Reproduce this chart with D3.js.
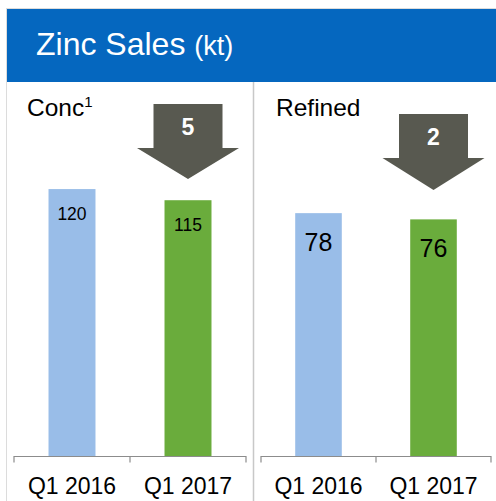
<!DOCTYPE html>
<html>
<head>
<meta charset="utf-8">
<script src="https://cdn.jsdelivr.net/npm/d3@7"></script>
<style>
  body { margin: 0; background: #fff; }
  text { font-family: Arial, "Liberation Sans", sans-serif; }
</style>
</head>
<body>
<script>
var width = 496, height = 501;

// data
var categories = ["Q1 2016", "Q1 2017"];
var concValues = [120, 115];
var refinedValues = [78, 76];
var concChange = 5;
var refinedChange = 2;
var barColors = ["#99bde8", "#6aac3c"];

var svg = d3.select("body").append("svg")
  .attr("width", width).attr("height", height);

// frame + header
svg.append("line").attr("x1", 6.5).attr("x2", 6.5).attr("y1", 8).attr("y2", height)
  .attr("stroke", "#dcdcdc");
svg.append("line").attr("x1", 6).attr("x2", width).attr("y1", 8.5).attr("y2", 8.5)
  .attr("stroke", "#dcdcdc");
svg.append("rect").attr("x", 7).attr("y", 9).attr("width", width - 7).attr("height", 73)
  .attr("fill", "#0567bf");
var title = svg.append("text").attr("x", 36).attr("y", 55).attr("fill", "#fff");
title.append("tspan").attr("font-size", 32).text("Zinc Sales ");
title.append("tspan").attr("font-size", 27).text("(kt)");

// divider
svg.append("line").attr("x1", 253.5).attr("x2", 253.5).attr("y1", 82).attr("y2", height)
  .attr("stroke", "#c8c8c8").attr("stroke-width", 1.5);

var baseY = 456.5, topY = 144.5;

function panel(opts) {
  var g = svg.append("g");
  var x = d3.scaleBand().domain(categories).range(opts.range)
    .paddingInner(0.595).paddingOuter(0.2975);
  var y = d3.scaleLinear().domain([0, opts.max]).range([baseY, topY]);

  // panel title
  var t = g.append("text").attr("x", opts.titleX).attr("y", 116).attr("font-size", 24.5)
    .attr("fill", "#000");
  t.append("tspan").text(opts.title);
  if (opts.sup) t.append("tspan").attr("font-size", 15).attr("dy", -9).text(opts.sup);

  // bars
  g.selectAll("rect.bar").data(opts.values).enter().append("rect")
    .attr("class", "bar")
    .attr("x", function(d, i) { return x(categories[i]); })
    .attr("y", function(d) { return y(d); })
    .attr("width", x.bandwidth())
    .attr("height", function(d) { return baseY - y(d); })
    .attr("fill", function(d, i) { return barColors[i]; });

  // value labels
  g.selectAll("text.val").data(opts.values).enter().append("text")
    .attr("class", "val")
    .attr("x", function(d, i) { return x(categories[i]) + x.bandwidth() / 2; })
    .attr("y", function(d) { return y(d) + opts.labelDy; })
    .attr("text-anchor", "middle")
    .attr("font-size", opts.labelSize)
    .attr("fill", "#000")
    .text(function(d) { return d; });

  // axis with ticks at category boundaries
  var r = x.range(), step = x.step();
  var bounds = [r[0], r[0] + step, r[1]];
  g.append("path")
    .attr("d", "M" + r[0] + "," + (baseY + 6) + "V" + baseY + "H" + r[1] + "V" + (baseY + 6))
    .attr("fill", "none").attr("stroke", "#8c8c8c").attr("stroke-width", 1.2);
  g.append("line").attr("x1", bounds[1]).attr("x2", bounds[1])
    .attr("y1", baseY).attr("y2", baseY + 6)
    .attr("stroke", "#8c8c8c").attr("stroke-width", 1.2);
  g.selectAll("text.cat").data(categories).enter().append("text")
    .attr("class", "cat")
    .attr("x", function(d) { return x(d) + x.bandwidth() / 2; })
    .attr("y", 494)
    .attr("text-anchor", "middle")
    .attr("font-size", 23)
    .attr("fill", "#000")
    .text(function(d) { return d; });

  // change arrow over the second bar
  var cx = x(categories[1]) + x.bandwidth() / 2;
  var a = opts.arrow;
  var sw = 34.5, hw = 51;
  g.append("path")
    .attr("d", "M" + (cx - sw) + "," + a.top + "H" + (cx + sw) + "V" + a.head +
      "H" + (cx + hw) + "L" + cx + "," + a.tip + "L" + (cx - hw) + "," + a.head +
      "H" + (cx - sw) + "Z")
    .attr("fill", "#585950");
  g.append("text").attr("x", cx).attr("y", a.top + 31)
    .attr("text-anchor", "middle").attr("font-size", 23).attr("font-weight", "bold")
    .attr("fill", "#fff").text(opts.change);
}

panel({ range: [14, 246], max: 140, values: concValues, title: "Conc", sup: "1", titleX: 27,
  labelDy: 31, labelSize: 17.5, change: concChange,
  arrow: { top: 104, head: 148, tip: 179 } });
panel({ range: [261, 491], max: 100, values: refinedValues, title: "Refined", titleX: 276,
  labelDy: 38, labelSize: 25, change: refinedChange,
  arrow: { top: 114, head: 158, tip: 190 } });
</script>
</body>
</html>
